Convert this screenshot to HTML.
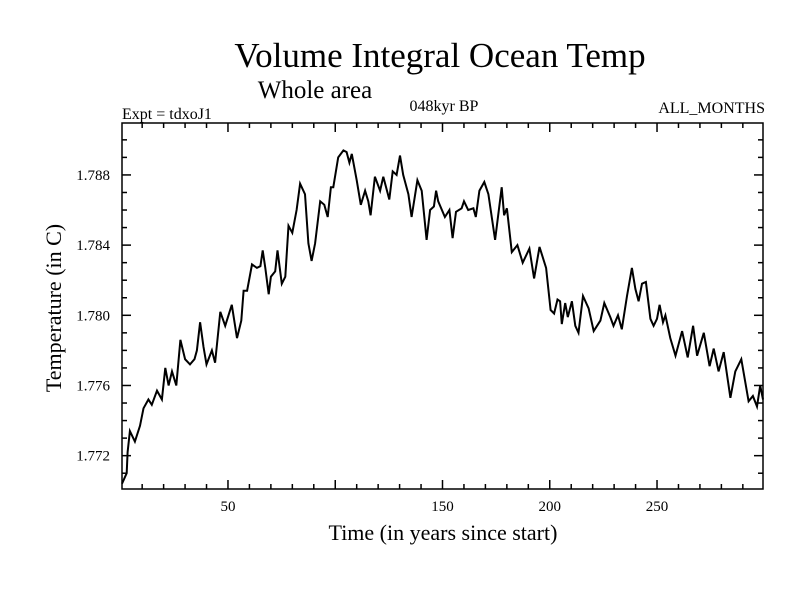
<!DOCTYPE html>
<html><head><meta charset="utf-8"><style>
body{margin:0;background:#fff}
svg text{font-family:"Liberation Serif",serif;fill:#000}
</style></head><body>
<svg id="c" width="800" height="600" xmlns="http://www.w3.org/2000/svg">
<rect width="800" height="600" fill="#fff"/>
<text x="440" y="67" font-size="35" text-anchor="middle">Volume Integral Ocean Temp</text>
<text x="315" y="98" font-size="25" text-anchor="middle">Whole area</text>
<text x="122" y="119" font-size="16">Expt = tdxoJ1</text>
<text x="444" y="111" font-size="16" text-anchor="middle">048kyr BP</text>
<text x="765" y="113" font-size="16" text-anchor="end">ALL_MONTHS</text>
<text x="443" y="540" font-size="22" text-anchor="middle">Time (in years since start)</text>
<text transform="translate(61,308) rotate(-90)" font-size="22" text-anchor="middle">Temperature (in C)</text>
<g id="axes"></g>
<path id="line" fill="none" stroke="#000" stroke-width="2"/>
</svg>
<script>
const years=[0.6,2.8,3.2,4.3,6.6,9,10.6,12.9,14.5,16.9,19.2,20.8,22.3,23.9,25.9,27.8,30,32.3,34.4,35.5,37,38.6,40,42.5,44,46.4,48.7,51.8,54.2,56.2,57.3,58.9,61.2,63.5,65.1,66.2,67.4,69,70,72,73.1,75.1,76.7,78.2,80,82,83.6,85.9,87.5,89,90.6,93,94.9,96.5,98,99.1,101.4,103.8,105.3,106.6,107.7,110,111.9,113.9,115.4,116.5,118.5,120.9,122.4,125.2,126.8,128.6,130.2,131.7,134.1,135.6,138.3,140.3,142.6,144.2,146,147,148,151.1,153.2,154.7,156.3,158.9,160,162,164.4,165.5,167.2,169.5,171.4,174.5,177.6,178.7,180,182.3,184.9,187.4,190.5,192.7,195.2,198.3,200.4,202,203.6,204.8,205.6,207.2,208.4,210.3,211.9,213.4,215.5,218.1,220.5,223.6,225.4,228.2,229.7,231.8,233.6,236,238.3,239.9,241.4,243,244.8,246.9,248.4,250,251.2,252.8,253.9,256.2,258.6,261.7,264.3,266.8,268.7,271.8,274.5,276.4,278.7,281.1,284.2,286.5,289.3,292.7,294.7,296.6,298.1,299.4];
const temps=[1.7704,1.7710,1.7722,1.7734,1.7728,1.7737,1.7747,1.7752,1.7749,1.7757,1.7752,1.7770,1.7760,1.7768,1.7760,1.7786,1.7775,1.7772,1.7775,1.7780,1.7796,1.7782,1.7772,1.7780,1.7773,1.7802,1.7794,1.7806,1.7787,1.7797,1.7814,1.7814,1.7829,1.7827,1.7828,1.7837,1.7827,1.7812,1.7822,1.7825,1.7837,1.7818,1.7822,1.7851,1.7847,1.7860,1.7875,1.7869,1.7841,1.7831,1.7841,1.7865,1.7863,1.7856,1.7873,1.7873,1.7890,1.7894,1.7893,1.7887,1.7892,1.7877,1.7863,1.7871,1.7865,1.7857,1.7879,1.7871,1.7879,1.7866,1.7882,1.7880,1.7891,1.7880,1.7869,1.7856,1.7877,1.7871,1.7843,1.7860,1.7862,1.7871,1.7865,1.7856,1.7860,1.7844,1.7859,1.7861,1.7865,1.7860,1.7861,1.7856,1.7871,1.7876,1.7869,1.7843,1.7873,1.7857,1.7861,1.7836,1.7840,1.7830,1.7838,1.7821,1.7839,1.7827,1.7803,1.7801,1.7809,1.7808,1.7795,1.7807,1.7799,1.7808,1.7794,1.7790,1.7811,1.7804,1.7791,1.7797,1.7807,1.7799,1.7794,1.7800,1.7792,1.7811,1.7827,1.7815,1.7808,1.7818,1.7819,1.7798,1.7794,1.7798,1.7806,1.7796,1.7800,1.7787,1.7777,1.7791,1.7776,1.7794,1.7777,1.7790,1.7771,1.7781,1.7768,1.7779,1.7753,1.7768,1.7775,1.7751,1.7754,1.7748,1.7760,1.7752];
const xTicks=[50,100,150,200,250];
const xTickLabels=["50","","150","200","250"];
const yTicks=[1.772,1.776,1.780,1.784,1.788];
const yTickLabels=["1.772","1.776","1.780","1.784","1.788"];
const L=122,R=763,T=123,B=489;
const x0=0.6,x1=299.4,y0=1.7701,y1=1.79096;
function sx(v){return L+(v-x0)/(x1-x0)*(R-L);}
function sy(v){return B-(v-y0)/(y1-y0)*(B-T);}
const ns="http://www.w3.org/2000/svg";
const g=document.getElementById('axes');
function ln(a,b,c,d,name){const e=document.createElementNS(ns,'line');e.setAttribute('x1',a);e.setAttribute('y1',b);e.setAttribute('x2',c);e.setAttribute('y2',d);e.setAttribute('stroke','#000');e.setAttribute('stroke-width','1.5');


g.appendChild(e);}
const fr=document.createElementNS(ns,'rect');fr.setAttribute('x',L);fr.setAttribute('y',T);fr.setAttribute('width',R-L);fr.setAttribute('height',B-T);fr.setAttribute('fill','none');fr.setAttribute('stroke','#000');fr.setAttribute('stroke-width','1.5');


g.appendChild(fr);
for(let v=10;v<300;v+=10){const X=sx(v);const len=v%50===0?9:5;ln(X,B,X,B-len,'x-tick');ln(X,T,X,T+len,'x-tick-top');}
for(let k=1771;k<=1790;k++){const v=k/1000;const Y=sy(v);const len=k%4===0?9:5;ln(L,Y,L+len,Y,'y-tick');ln(R,Y,R-len,Y,'y-tick-right');}
xTicks.forEach((v,i)=>{const t=document.createElementNS(ns,'text');t.setAttribute('x',sx(v));t.setAttribute('y',B+22);t.setAttribute('font-size','15');t.setAttribute('text-anchor','middle');t.textContent=xTickLabels[i];


g.appendChild(t);});
yTicks.forEach((v,i)=>{const t=document.createElementNS(ns,'text');t.setAttribute('x',L-12);t.setAttribute('y',sy(v)+5);t.setAttribute('font-size','15');t.setAttribute('text-anchor','end');t.textContent=yTickLabels[i];


g.appendChild(t);});
document.getElementById('line').setAttribute('d',years.map((v,i)=>(i?'L':'M')+sx(v).toFixed(1)+' '+sy(temps[i]).toFixed(1)).join(' '));
</script>
</body></html>
